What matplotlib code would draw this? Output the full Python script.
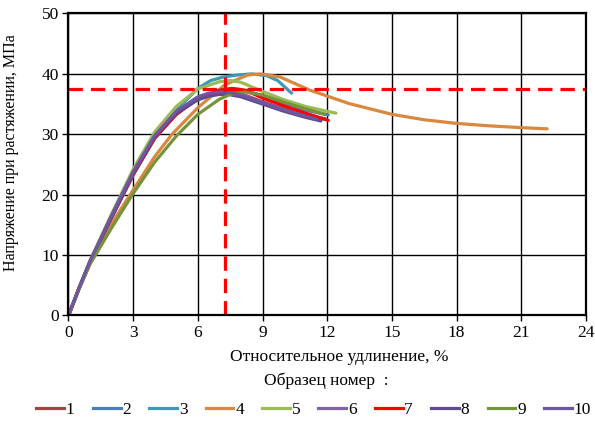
import matplotlib.pyplot as plt
from matplotlib.lines import Line2D

plt.rcParams['font.family'] = ['Liberation Serif', 'DejaVu Serif']

# кривые растяжения для каждого образца: удлинение, % и напряжение, МПа
x1 = [0, 0.5, 1, 2, 3, 4, 5, 6, 6.5, 7, 7.5, 8, 9, 10, 11, 11.8]
y1 = [0, 4.6, 8.9, 16.4, 23.5, 29.4, 33.4, 35.9, 36.6, 36.9, 37.0, 36.7, 35.4, 34.2, 33.2, 32.5]
x2 = [0, 0.5, 1, 2, 3, 4, 5, 6, 7, 7.6, 8.3, 9, 10, 11, 12.05]
y2 = [0, 4.6, 8.9, 16.2, 23.3, 29.3, 33.3, 35.9, 37.1, 37.3, 37.1, 36.4, 35.2, 34.0, 33.2]
x3 = [0, 0.5, 1, 2, 3, 4, 5, 6, 6.6, 7.2, 7.8, 8.5, 9.2, 9.7, 10.35]
y3 = [0, 4.6, 8.9, 16.2, 23.2, 29.5, 34.0, 37.6, 38.9, 39.5, 39.8, 40.0, 39.7, 38.9, 36.8]
x4 = [0, 0.5, 1, 2, 3, 4, 4.8, 6, 7.26, 8.3, 8.9, 9.8, 11.2, 13, 15, 16.5, 18, 19.5, 21, 22.2]
y4 = [0, 4.5, 8.6, 15.2, 20.8, 26.3, 30.0, 34.4, 38.2, 39.8, 40.0, 39.5, 37.3, 35.1, 33.3, 32.4,
      31.8, 31.4, 31.1, 30.9]
x5 = [0, 0.5, 1, 2, 3, 4, 5, 6, 7, 7.5, 8, 9, 10, 11, 12, 12.4]
y5 = [0, 4.7, 9.1, 16.8, 24.2, 30.4, 34.6, 37.5, 38.7, 38.9, 38.6, 37.1, 35.7, 34.6, 33.8, 33.5]
x6 = [0, 0.5, 1, 2, 3, 4, 5, 6, 6.5, 7, 7.5, 8, 9, 10, 11, 11.9]
y6 = [0, 4.6, 8.9, 16.2, 23.4, 29.5, 33.6, 36.0, 36.6, 36.9, 37.0, 36.6, 35.3, 34.1, 33.1, 32.6]
x7 = [0, 0.5, 1, 2, 3, 4, 5, 6, 7, 7.6, 8.2, 9, 10, 11, 12.05]
y7 = [0, 4.6, 8.9, 16.3, 23.4, 29.4, 33.3, 35.9, 37.3, 37.6, 37.3, 36.0, 34.7, 33.5, 32.3]
x8 = [0, 0.5, 1, 2, 3, 4, 5, 6, 6.5, 7, 7.4, 8, 9, 10, 11, 11.7]
y8 = [0, 4.6, 8.9, 16.3, 23.6, 29.6, 33.5, 35.7, 36.3, 36.6, 36.6, 36.2, 35.0, 33.8, 32.8, 32.2]
x9 = [0, 0.5, 1, 2, 3, 4, 5, 6, 7, 7.5, 8.2, 9, 10, 11, 11.9]
y9 = [0, 4.5, 8.5, 14.5, 20.2, 25.4, 29.7, 33.3, 35.8, 36.6, 37.0, 36.5, 35.3, 34.2, 33.3]
x10 = [0, 0.5, 1, 2, 3, 4, 5, 6, 6.5, 7, 7.4, 8, 9, 10, 11, 11.5]
y10 = [0, 4.6, 9.0, 16.6, 23.8, 29.8, 33.8, 36.2, 36.8, 37.0, 37.0, 36.5, 35.2, 34.0, 33.0, 32.5]

xs = [x1, x2, x3, x4, x5, x6, x7, x8, x9, x10]
ys = [y1, y2, y3, y4, y5, y6, y7, y8, y9, y10]
names = ['1', '2', '3', '4', '5', '6', '7', '8', '9', '10']
colors = ['#A0453F', '#4A7EBB', '#3C9AB6', '#D9883F', '#9BBB59',
          '#8064A2', '#FF0000', '#5F4B8B', '#77933C', '#6E57A0']

# предел текучести и удлинение при нем (штриховые линии)
x_mark = 7.25
y_mark = 37.45

fig = plt.figure(figsize=(5.95, 4.26), dpi=100)
ax = fig.add_axes([0.1151, 0.2594, 0.8697, 0.709])

for x, y, c in zip(xs, ys, colors):
    ax.plot(x, y, color=c, lw=2.3, solid_capstyle='round', solid_joinstyle='round')

ax.axvline(x_mark, color='red', lw=2.3, ls=(0, (4.5, 2.5)))
ax.axhline(y_mark, color='red', lw=2.3, ls=(0, (4.5, 2.5)))

ax.set_xlim(0, 24)
ax.set_ylim(0, 50)
ax.set_xticks(range(0, 25, 3))
ax.set_yticks(range(0, 51, 10))
ax.grid(True, color='black', lw=1)
ax.set_axisbelow(True)
for s in ax.spines.values():
    s.set_linewidth(1.6)
ax.tick_params(labelsize=12.5, direction='out', length=4, width=1, pad=3)

ax.set_ylabel('Напряжение при растяжении, МПа', fontsize=11.5)
ax.yaxis.set_label_coords(-0.096, 0.538)
fig.text(0.571, 0.162, 'Относительное удлинение, %', fontsize=12.5, ha='center', va='center')
fig.text(0.548, 0.106, 'Образец номер  :', fontsize=12.5, ha='center', va='center')

handles = [Line2D([], [], color=c, lw=2.3) for c in colors]
fig.legend(handles, names, loc='center', bbox_to_anchor=(0.527, 0.037), ncol=10,
           frameon=False, fontsize=12.5, handlelength=1.6, handletextpad=0.1,
           columnspacing=1.05)

fig.savefig('out.png', dpi=100)
